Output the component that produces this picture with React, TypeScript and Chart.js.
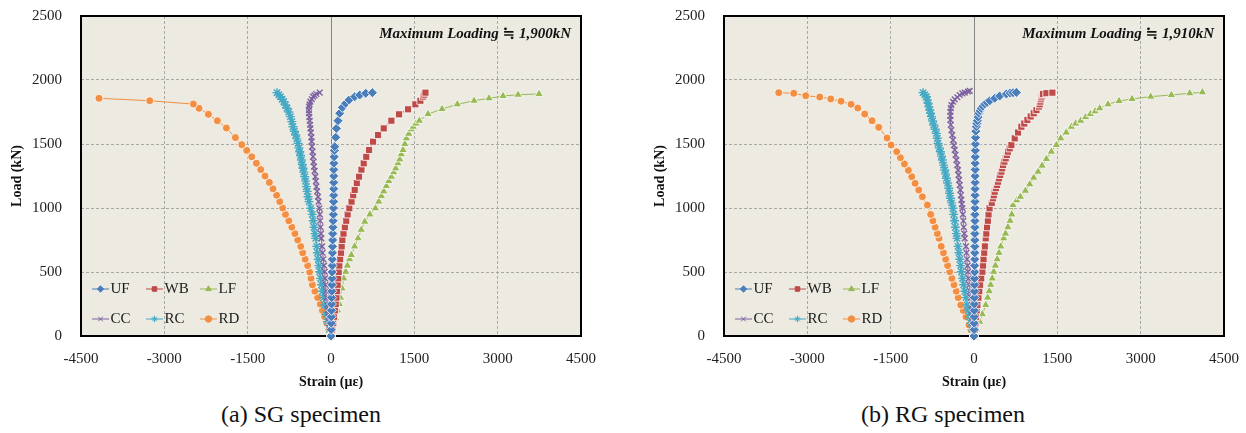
import React, { useEffect, useRef } from 'react';
import { Chart, registerables } from 'chart.js';
import { drawPoint } from 'chart.js/helpers';

Chart.register(...registerables);

const FONT = "'Liberation Serif', 'DejaVu Serif', serif";

// Series meta
const SERIES_NAMES = ['UF', 'WB', 'LF', 'CC', 'RC', 'RD'];
const SERIES_COLORS = ['#4A7EBB', '#BE4B48', '#98B954', '#7D60A0', '#46AAC5', '#F28F43'];
const SERIES_STYLES = ['rectRot', 'rect', 'triangle', 'crossRot', 'star', 'circle'];
const SERIES_RADII = [5, 5, 5, 4, 4.5, 4];

// Axis ranges
const X_MIN = -4500, X_MAX = 4500, X_STEP = 1500;
const Y_MIN = 0, Y_MAX = 2500, Y_STEP = 500;

// (a) SG specimen — [strain (με), load (kN)]
const SG_UF: number[][] = [[0,0],[2,50],[4,100],[6,150],[8,200],[10,250],[12,300],[14,350],[16,400],[18,450],[20,500],[22,550],[24,600],[26,650],[28,700],[30,750],[32,800],[35,850],[38,900],[42,950],[45,1000],[47,1050],[48,1100],[49,1150],[50,1200],[50,1250],[50,1300],[52,1350],[56,1400],[62,1450],[66,1479],[85,1552],[97,1622],[126,1682],[157,1740],[205,1786],[265,1818],[324,1844],[427,1870],[517,1883],[625,1896],[745,1901]];
const SG_WB: number[][] = [[0,0],[20,50],[40,100],[55,150],[70,200],[85,250],[98,300],[110,350],[120,400],[130,450],[139,500],[150,550],[165,600],[180,650],[192,700],[205,750],[225,800],[250,850],[275,900],[300,950],[330,998],[370,1050],[400,1100],[427,1141],[465,1195],[505,1245],[548,1300],[589,1349],[635,1400],[685,1453],[757,1518],[847,1570],[949,1622],[1087,1682],[1225,1732],[1387,1771],[1519,1810],[1609,1838],[1657,1870],[1680,1885],[1700,1901]];
const SG_LF: number[][] = [[0,0],[30,50],[60,100],[85,138],[120,200],[150,250],[170,300],[199,372],[230,450],[265,502],[295,550],[335,600],[367,633],[425,700],[487,763],[545,830],[607,893],[700,950],[800,998],[860,1050],[907,1094],[950,1130],[997,1172],[1040,1210],[1087,1245],[1130,1280],[1165,1310],[1205,1350],[1237,1380],[1265,1420],[1297,1453],[1330,1500],[1357,1544],[1400,1580],[1447,1615],[1480,1635],[1530,1660],[1590,1682],[1747,1734],[1999,1773],[2275,1810],[2575,1838],[2845,1857],[3097,1875],[3367,1885],[3745,1891]];
const SG_CC: number[][] = [[0,0],[-15,50],[-28,100],[-40,150],[-55,200],[-65,242],[-78,300],[-88,350],[-97,400],[-105,450],[-113,502],[-125,550],[-138,600],[-150,650],[-160,700],[-173,763],[-180,800],[-188,850],[-195,900],[-200,950],[-210,998],[-225,1050],[-234,1088],[-250,1130],[-263,1167],[-272,1210],[-281,1245],[-295,1290],[-306,1323],[-315,1360],[-324,1401],[-333,1440],[-342,1479],[-348,1520],[-353,1552],[-362,1590],[-371,1622],[-377,1650],[-383,1682],[-390,1710],[-396,1740],[-398,1765],[-396,1792],[-385,1810],[-371,1831],[-345,1850],[-324,1870],[-295,1880],[-264,1891],[-203,1901]];
const SG_RC: number[][] = [[0,0],[-25,50],[-65,112],[-90,170],[-113,242],[-135,300],[-155,350],[-170,400],[-188,450],[-203,502],[-218,550],[-230,600],[-245,650],[-258,700],[-275,763],[-290,800],[-305,850],[-320,900],[-337,950],[-365,998],[-395,1050],[-414,1088],[-428,1130],[-443,1167],[-458,1210],[-473,1245],[-490,1280],[-504,1310],[-518,1340],[-533,1375],[-548,1410],[-563,1440],[-578,1470],[-594,1505],[-615,1540],[-635,1570],[-660,1600],[-684,1635],[-705,1675],[-731,1714],[-760,1750],[-792,1779],[-820,1805],[-851,1831],[-880,1850],[-911,1870],[-940,1885],[-972,1901]];
const SG_RD: number[][] = [[0,0],[-35,50],[-75,100],[-113,150],[-155,200],[-195,250],[-240,300],[-290,350],[-335,400],[-360,450],[-385,500],[-420,550],[-465,600],[-510,650],[-545,700],[-600,750],[-650,800],[-705,850],[-760,900],[-820,950],[-870,1000],[-923,1050],[-980,1100],[-1044,1150],[-1110,1200],[-1188,1250],[-1265,1300],[-1343,1350],[-1427,1400],[-1517,1450],[-1607,1495],[-1721,1550],[-1883,1625],[-2045,1682],[-2207,1732],[-2376,1779],[-2477,1812],[-3263,1838],[-4176,1857]];

// (b) RG specimen — [strain (με), load (kN)]
const RG_UF: number[][] = [[0,0],[2,50],[3,100],[4,150],[5,200],[6,250],[7,300],[8,350],[9,400],[10,450],[11,500],[12,550],[13,600],[14,650],[15,700],[15,750],[16,800],[16,850],[17,900],[17,950],[18,1000],[18,1050],[19,1100],[19,1150],[20,1200],[20,1250],[21,1300],[21,1350],[22,1400],[23,1450],[25,1500],[28,1550],[33,1600],[43,1635],[52,1660],[61,1682],[75,1710],[90,1740],[110,1760],[133,1779],[160,1795],[193,1812],[235,1825],[283,1838],[373,1857],[463,1875],[583,1891],[650,1898],[703,1901],[763,1903]];
const RG_WB: number[][] = [[0,0],[12,50],[25,100],[38,150],[50,200],[61,242],[80,300],[95,350],[110,400],[130,450],[151,502],[162,550],[172,600],[185,650],[196,700],[211,763],[222,800],[235,850],[250,900],[262,950],[280,998],[320,1040],[343,1076],[358,1100],[373,1127],[395,1155],[415,1180],[433,1205],[451,1232],[472,1258],[493,1284],[508,1310],[523,1336],[547,1362],[571,1388],[592,1414],[613,1440],[643,1466],[673,1492],[733,1544],[793,1590],[853,1635],[905,1660],[961,1688],[1020,1715],[1075,1740],[1125,1765],[1170,1792],[1183,1810],[1195,1831],[1205,1850],[1213,1865],[1228,1880],[1243,1891],[1303,1897],[1411,1901]];
const RG_LF: number[][] = [[0,0],[45,50],[103,112],[150,170],[211,242],[245,300],[275,350],[300,400],[328,450],[355,502],[385,550],[418,600],[450,650],[482,700],[535,763],[568,800],[610,850],[650,900],[680,950],[703,1023],[770,1060],[835,1088],[925,1135],[1003,1185],[1075,1237],[1153,1284],[1225,1331],[1303,1383],[1393,1440],[1483,1492],[1561,1544],[1660,1590],[1753,1635],[1830,1660],[1921,1682],[2010,1710],[2095,1734],[2180,1755],[2263,1779],[2413,1810],[2611,1836],[2845,1852],[3181,1870],[3553,1883],[3883,1896],[4111,1904]];
const RG_CC: number[][] = [[0,0],[-10,50],[-20,100],[-30,150],[-38,200],[-42,242],[-55,300],[-70,350],[-82,400],[-95,450],[-107,502],[-115,550],[-125,600],[-135,650],[-145,700],[-167,763],[-175,800],[-185,850],[-192,900],[-200,950],[-209,998],[-218,1030],[-227,1063],[-236,1100],[-245,1141],[-257,1180],[-269,1219],[-278,1258],[-287,1297],[-302,1335],[-317,1375],[-332,1415],[-347,1453],[-362,1490],[-377,1531],[-392,1570],[-407,1609],[-418,1650],[-425,1688],[-426,1720],[-425,1752],[-418,1780],[-407,1805],[-377,1830],[-347,1849],[-300,1865],[-257,1883],[-210,1895],[-167,1901],[-110,1910],[-77,1915]];
const RG_RC: number[][] = [[0,0],[-30,50],[-55,100],[-80,150],[-105,200],[-126,242],[-145,300],[-165,350],[-185,400],[-205,450],[-227,502],[-240,550],[-255,600],[-270,650],[-288,700],[-305,763],[-318,800],[-335,850],[-350,900],[-365,950],[-380,998],[-403,1040],[-425,1076],[-440,1115],[-455,1154],[-475,1195],[-497,1232],[-510,1265],[-527,1297],[-548,1335],[-569,1375],[-585,1405],[-605,1440],[-625,1470],[-647,1505],[-660,1545],[-677,1583],[-700,1615],[-725,1648],[-745,1680],[-767,1714],[-782,1740],[-797,1766],[-812,1790],[-827,1818],[-842,1845],[-857,1870],[-885,1885],[-917,1901]];
const RG_RD: number[][] = [[0,0],[-55,50],[-90,86],[-145,150],[-195,200],[-239,242],[-285,300],[-320,350],[-360,400],[-398,450],[-437,502],[-475,550],[-510,600],[-550,650],[-590,700],[-630,763],[-660,800],[-700,850],[-740,900],[-780,950],[-839,1023],[-929,1088],[-995,1141],[-1061,1193],[-1121,1245],[-1181,1294],[-1253,1344],[-1325,1393],[-1391,1440],[-1493,1492],[-1565,1547],[-1715,1630],[-1835,1682],[-1967,1734],[-2093,1781],[-2213,1810],[-2393,1834],[-2579,1852],[-2777,1867],[-3029,1877],[-3245,1896],[-3515,1901]];

const SG_SERIES = [SG_UF, SG_WB, SG_LF, SG_CC, SG_RC, SG_RD];
const RG_SERIES = [RG_UF, RG_WB, RG_LF, RG_CC, RG_RC, RG_RD];

const ANNOTATIONS = ['Maximum Loading \u2252 1,900kN', 'Maximum Loading \u2252 1,910kN'];
const CAPTIONS = ['(a) SG specimen', '(b) RG specimen'];
const X_TITLE = 'Strain (\u03bc\u03b5)';
const Y_TITLE = 'Load (kN)';

const framePlugin = {
  id: 'frame',
  beforeDraw(chart: any) {
    const { ctx, chartArea: a } = chart;
    ctx.save();
    ctx.fillStyle = '#ECEAE1';
    ctx.fillRect(a.left, a.top, a.right - a.left, a.bottom - a.top);
    ctx.restore();
  },
  beforeDatasetsDraw(chart: any) {
    const { ctx, chartArea: a } = chart;
    const x0 = Math.round(chart.scales.x.getPixelForValue(0)) + 0.5;
    ctx.save();
    ctx.strokeStyle = '#868686';
    ctx.lineWidth = 1;
    ctx.beginPath();
    ctx.moveTo(x0, a.top);
    ctx.lineTo(x0, a.bottom);
    ctx.stroke();
    ctx.strokeStyle = '#000';
    ctx.lineWidth = 2;
    ctx.strokeRect(a.left, a.top, a.right - a.left, a.bottom - a.top);
    ctx.restore();
  },
};

const legendPlugin = {
  id: 'innerLegend',
  afterDatasetsDraw(chart: any, _args: any, opts: any) {
    const { ctx, chartArea: a } = chart;
    ctx.save();
    SERIES_NAMES.forEach((name, i) => {
      const col = i % 3;
      const row = Math.floor(i / 3);
      const x0 = a.left + 11 + col * 54;
      const y = a.bottom - 47 + row * 30;
      ctx.strokeStyle = SERIES_COLORS[i];
      ctx.lineWidth = 1;
      ctx.beginPath();
      ctx.moveTo(x0, y);
      ctx.lineTo(x0 + 17, y);
      ctx.stroke();
      ctx.fillStyle = SERIES_COLORS[i];
      ctx.strokeStyle = SERIES_COLORS[i];
      ctx.lineWidth = 1;
      drawPoint(ctx, { pointStyle: SERIES_STYLES[i], radius: 3.2, rotation: 0, borderWidth: 1 } as any, x0 + 8.5, y);
      ctx.fillStyle = '#1a1a1a';
      ctx.font = `15px ${FONT}`;
      ctx.textBaseline = 'middle';
      ctx.textAlign = 'left';
      ctx.fillText(name, x0 + 18.5, y + 0.5);
    });
    ctx.font = `bold italic 15px ${FONT}`;
    ctx.fillStyle = '#111';
    ctx.textAlign = 'right';
    ctx.textBaseline = 'middle';
    ctx.fillText(opts.text, a.right - 10, a.top + 18);
    ctx.restore();
  },
};

function StrainChart({ series, annotation, left }: { series: number[][][]; annotation: string; left: number }) {
  const ref = useRef<HTMLCanvasElement>(null);
  useEffect(() => {
    const datasets = series.map((pts, i) => {
      const filled = !['crossRot', 'star'].includes(SERIES_STYLES[i]);
      return {
        label: SERIES_NAMES[i],
        data: pts.map(([x, y]) => ({ x, y })),
        showLine: true,
        borderColor: SERIES_COLORS[i],
        borderWidth: 1,
        pointStyle: SERIES_STYLES[i],
        pointRadius: SERIES_RADII[i],
        pointBackgroundColor: SERIES_COLORS[i],
        pointBorderColor: filled ? '#ffffff' : SERIES_COLORS[i],
        pointBorderWidth: filled ? 0.8 : 1.4,
        clip: false,
      };
    });
    const tickFont = { family: FONT, size: 15 };
    const chart = new Chart(ref.current as HTMLCanvasElement, {
      type: 'scatter',
      data: { datasets } as any,
      options: {
        animation: false,
        responsive: false,
        maintainAspectRatio: false,
        layout: { padding: { top: 16, right: 19, left: 0, bottom: 0 } },
        plugins: {
          legend: { display: false },
          tooltip: { enabled: false },
          innerLegend: { text: annotation },
        } as any,
        scales: {
          x: {
            type: 'linear',
            min: X_MIN,
            max: X_MAX,
            ticks: { stepSize: X_STEP, font: tickFont, color: '#222', padding: 0, callback: (v: any) => String(v), maxRotation: 0 },
            grid: { color: '#A8A8A8', drawTicks: true, tickLength: 14, tickColor: 'rgba(0,0,0,0)', lineWidth: 1 },
            border: { display: false, dash: [3, 2] },
            title: { display: true, text: X_TITLE, font: { family: FONT, size: 14, weight: 'bold' }, color: '#111', padding: { top: 4, bottom: 9 } },
            afterFit: (s: any) => { s.height = 64; },
          },
          y: {
            type: 'linear',
            min: Y_MIN,
            max: Y_MAX,
            ticks: { stepSize: Y_STEP, font: tickFont, color: '#222', padding: 0, callback: (v: any) => String(v) },
            grid: { color: '#A8A8A8', drawTicks: true, tickLength: 19, tickColor: 'rgba(0,0,0,0)', lineWidth: 1 },
            border: { display: false, dash: [3, 2] },
            title: { display: true, text: Y_TITLE, font: { family: FONT, size: 14, weight: 'bold' }, color: '#111', padding: { top: 9, bottom: 4 } },
            afterFit: (s: any) => { s.width = 81; },
          },
        },
      } as any,
      plugins: [framePlugin, legendPlugin],
    });
    return () => chart.destroy();
  }, []);
  return <canvas ref={ref} width={600} height={400} style={{ position: 'absolute', left, top: 0, width: 600, height: 400 }} />;
}

export default function App() {
  return (
    <div style={{ position: 'fixed', left: 0, top: 0, width: 1246, height: 433, background: '#fff', overflow: 'hidden' }}>
      <StrainChart series={SG_SERIES} annotation={ANNOTATIONS[0]} left={0} />
      <StrainChart series={RG_SERIES} annotation={ANNOTATIONS[1]} left={643} />
      <div style={{ position: 'absolute', left: 151, width: 300, top: 401, textAlign: 'center', font: `24px ${FONT}`, color: '#111' }}>{CAPTIONS[0]}</div>
      <div style={{ position: 'absolute', left: 793, width: 300, top: 401, textAlign: 'center', font: `24px ${FONT}`, color: '#111' }}>{CAPTIONS[1]}</div>
    </div>
  );
}
